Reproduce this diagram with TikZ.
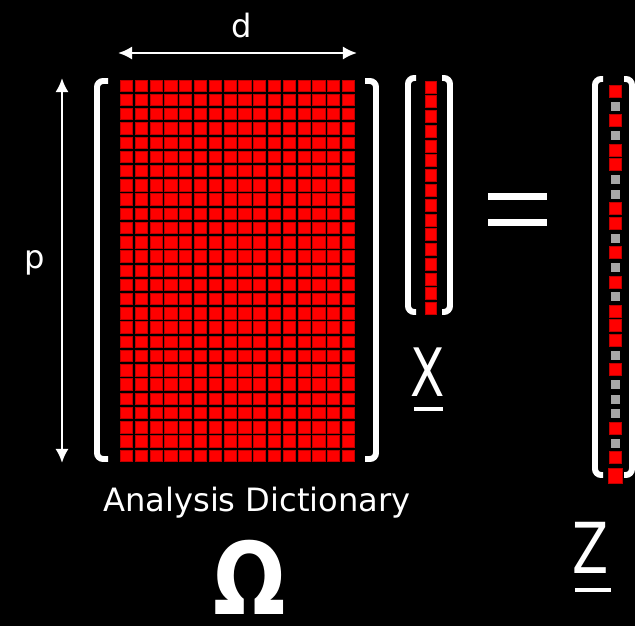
\documentclass[tikz,border=0pt]{standalone}
\usepackage{fontspec}
\setmainfont{DejaVu Sans}
\usetikzlibrary{arrows.meta}
\definecolor{Cell}{HTML}{FF0000}
\definecolor{CellEdge}{HTML}{C00000}
\definecolor{Zero}{HTML}{A6A6A6}
% left x, right x, top, bottom, hook
\newcommand\matbrackets[5]{%
  \draw[bracket] ({#1+#5},#3) -- (#1,#3) -- (#1,#4) -- ({#1+#5},#4);
  \draw[bracket] ({#2-#5},#3) -- (#2,#3) -- (#2,#4) -- ({#2-#5},#4);}

\begin{document}
\begin{tikzpicture}[x=0.02cm,y=-0.02cm,>={Latex[length=8pt,width=7.5pt]},
  every node/.style={text=white,inner sep=0pt},
  lbl/.style={font=\fontsize{18.3}{20}\selectfont},
  cell/.style={fill=Cell,draw=CellEdge,line width=0.25pt},
  bracket/.style={white,line width=3.4pt,rounded corners=3.5pt},
  dim/.style={white,line width=1.4pt,<->}]
\fill[black] (0,0) rectangle (635,626);
\useasboundingbox (0,0) rectangle (635,626);
% analysis dictionary
\foreach \r in {0,...,26}
  \foreach \c in {0,...,15}
    \path[cell] ({120.3+\c*14.8},{79.8+\r*14.23}) rectangle +(12.2,11.4);
\matbrackets{97}{376}{81}{459}{11}
% signal
\foreach \r in {0,...,15}
  \path[cell] (425.3,{80.8+\r*14.77}) rectangle +(10.6,12);
\matbrackets{408}{450}{78}{312}{8}
% sparse code
\foreach \v [count=\k from 0] in {1,0,1,0,1,1,0,0,1,1,0,1,0,1,0,1,1,1,0,1,0,0,0,1,0,1}{
  \ifnum\v=1 \path[cell] (609.3,{85.3+\k*14.65}) rectangle +(11.6,12);
  \else \fill[Zero] (610.5,{87+\k*14.65}) rectangle +(9,9);
  \fi}
\matbrackets{595}{632}{79}{475}{8}
\path[cell] (608,468) rectangle (622,483);
% equals
\fill[white] (488,193) rectangle (547,200);
\fill[white] (488,219) rectangle (547,226);
% dimensions
\coordinate (dL) at (118,53); \coordinate (dR) at (357,53);
\coordinate (pT) at (62,78); \coordinate (pB) at (62,463);
\draw[dim] (dL) -- (dR);
\draw[dim] (pT) -- (pB);
\node[lbl,anchor=base] (dLabel) at (242,37) {d};
\node[lbl,anchor=base] (pLabel) at (35,268) {p};
\node[lbl,anchor=base] (analysis) at (257,511) {Analysis Dictionary};
\node[anchor=base,xscale=0.85,font=\fontsize{57}{57}\bfseries] (omega) at (250,614) {Ω};
\node[anchor=base,xscale=0.75,font=\fontsize{38}{38}\selectfont] (xvec) at (428,396) {X};
\fill[white] (414,407) rectangle (443,411);
\node[anchor=base,xscale=0.75,font=\fontsize{40}{40}\selectfont] (zvec) at (591,573) {Z};
\fill[white] (575,588) rectangle (611,592);
\end{tikzpicture}
\end{document}
